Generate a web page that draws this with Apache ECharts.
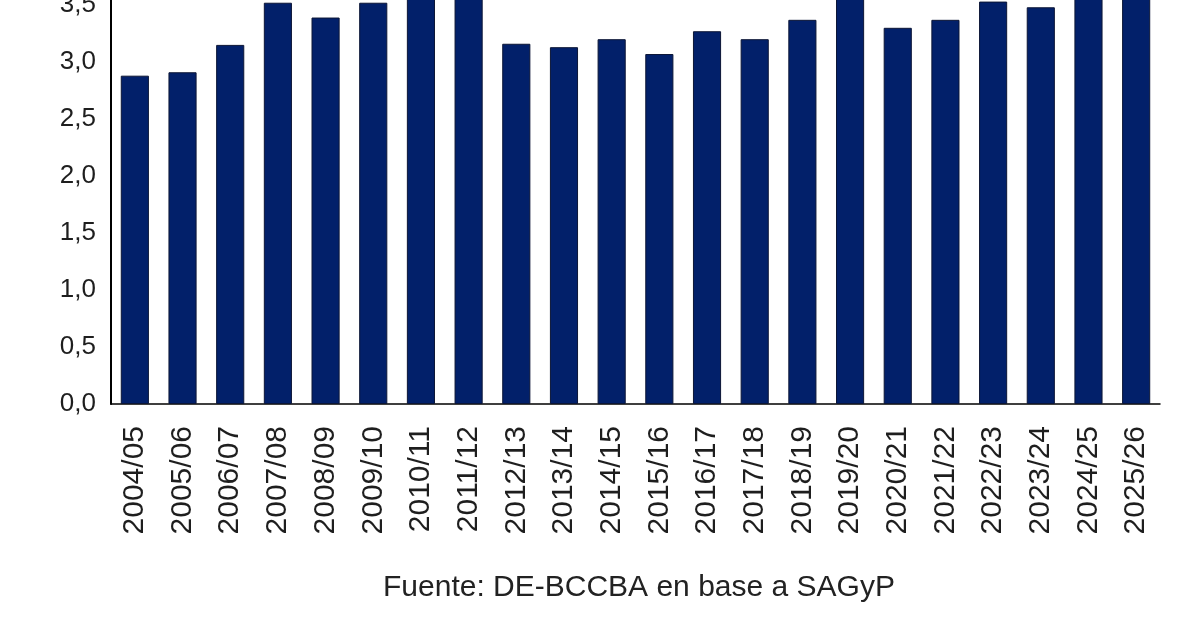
<!DOCTYPE html>
<html>
<head>
<meta charset="utf-8">
<script src="https://cdn.jsdelivr.net/npm/echarts@6/dist/echarts.min.js"></script>
<style>
  html, body { margin: 0; padding: 0; background: #fff; overflow: hidden; }
  #wrap { width: 1200px; height: 630px; overflow: hidden; position: relative; }
  /* el gráfico original está recortado arriba: se desplaza el lienzo hacia arriba */
  #chart { width: 1200px; height: 700px; position: absolute; left: 0; top: -70px; }
</style>
</head>
<body>
<div id="wrap"><div id="chart"></div></div>
<script>
// campañas y valores (las barras recortadas arriba son estimadas)
var campanias = ['2004/05', '2005/06', '2006/07', '2007/08', '2008/09', '2009/10', '2010/11', '2011/12',
    '2012/13', '2013/14', '2014/15', '2015/16', '2016/17', '2017/18', '2018/19', '2019/20',
    '2020/21', '2021/22', '2022/23', '2023/24', '2024/25', '2025/26']
var valores = [2.88, 2.91, 3.15, 3.52, 3.39, 3.52, 3.75, 3.7,
    3.16, 3.13, 3.2, 3.07, 3.27, 3.2, 3.37, 3.62,
    3.3, 3.37, 3.53, 3.48, 3.8, 3.85]
var ticksY = [0, 0.5, 1, 1.5, 2, 2.5, 3, 3.5, 4]
var fuente = 'Fuente: DE-BCCBA en base a SAGyP'

var myChart = echarts.init(document.getElementById('chart'))
var options = {
    animation: false,
    textStyle: { fontFamily: 'Liberation Sans' },
    grid: {
        left: 111,
        right: 40,
        top: 18,
        bottom: 226,
        containLabel: false
    },
    xAxis: {
        type: 'category',
        data: campanias,
        axisLine: { show: true, lineStyle: { color: '#000', width: 1.5 } },
        axisTick: { show: false },
        axisLabel: {
            rotate: 90,
            margin: 22,
            fontSize: 30,
            color: '#1e1e1e',
            fontFamily: 'Liberation Sans'
        }
    },
    yAxis: {
        type: 'value',
        min: ticksY[0],
        max: ticksY[ticksY.length - 1],
        interval: 0.5,
        splitLine: { show: false },
        axisLine: { show: true, lineStyle: { color: '#000', width: 2 } },
        axisTick: { show: false },
        axisLabel: {
            margin: 15,
            fontSize: 26,
            color: '#1e1e1e',
            fontFamily: 'Liberation Sans',
            formatter: function (v) {
                return v.toFixed(1).replace('.', ',')
            }
        }
    },
    series: [
        {
            type: 'bar',
            data: valores,
            barCategoryGap: '41%',
            itemStyle: {
                color: '#02206a',
                borderColor: '#0c1636',
                borderWidth: 1
            }
        }
    ],
    graphic: [
        {
            type: 'text',
            left: 383,
            top: 643,
            style: {
                text: fuente,
                fontSize: 30,
                fontFamily: 'Liberation Sans',
                fill: '#222'
            }
        }
    ]
}
myChart.setOption(options)
</script>
</body>
</html>
